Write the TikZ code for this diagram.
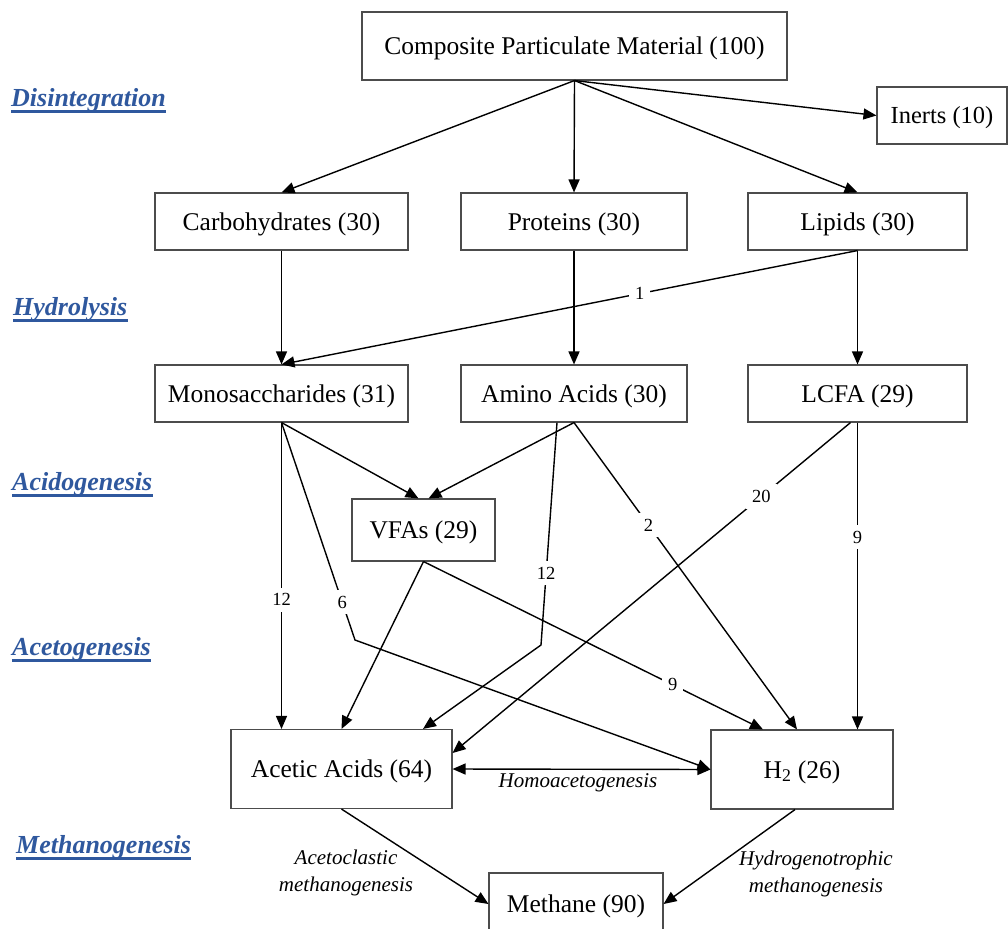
\documentclass[tikz,border=0pt]{standalone}
\usepackage{fontspec}
\setmainfont{Liberation Serif}
\usetikzlibrary{arrows.meta}
\definecolor{stageblue}{RGB}{47,88,158}
\begin{document}
\begin{tikzpicture}[x=1pt,y=-1pt,
  box/.style={draw=black!70, line width=1.1pt, inner sep=0pt, anchor=center,
    text height=17pt, text depth=0pt, font=\fontsize{25.5}{30}\selectfont},
  conn/.style={line width=1.4pt, -{Triangle[length=13pt,width=11pt]}},
  lbl/.style={fill=white, inner sep=6pt, font=\fontsize{18.5}{22}\selectfont},
  proc/.style={font=\fontsize{21}{27}\selectfont\itshape, align=center},
  stage/.style={font=\fontsize{26}{30}\selectfont\bfseries\itshape, text=stageblue,
    inner sep=0pt, anchor=base west},
  uline/.style={draw=stageblue, line width=3pt}]

\useasboundingbox (0,0) rectangle (1008,928);

% boxes
\node[box, minimum width=425pt, minimum height=68pt] (comp) at (574.5,46) {Composite Particulate Material (100)};
\node[box, minimum width=130pt, minimum height=57pt, font=\fontsize{24.5}{30}\selectfont] (inerts) at (942,115.5) {Inerts (10)};
\node[box, minimum width=253pt, minimum height=57pt] (carb) at (281.5,221.5) {Carbohydrates (30)};
\node[box, minimum width=226pt, minimum height=57pt] (prot) at (574,221.5) {Proteins (30)};
\node[box, minimum width=219pt, minimum height=57pt] (lip) at (857.5,221.5) {Lipids (30)};
\node[box, minimum width=253pt, minimum height=57pt] (mono) at (281.5,393.5) {Monosaccharides (31)};
\node[box, minimum width=226pt, minimum height=57pt] (amino) at (574,393.5) {Amino Acids (30)};
\node[box, minimum width=219pt, minimum height=57pt] (lcfa) at (857.5,393.5) {LCFA (29)};
\node[box, minimum width=143pt, minimum height=62pt] (vfa) at (423.5,530) {VFAs (29)};
\node[box, minimum width=221pt, minimum height=79pt] (acetic) at (341.5,769) {Acetic Acids (64)};
\node[box, minimum width=182pt, minimum height=79pt] (h2) at (802,769.5) {H\textsubscript{2} (26)};
\node[box, minimum width=174pt, minimum height=62pt] (meth) at (576,904) {Methane (90)};

% stage labels
\node[stage] (dis) at (11,107) {Disintegration};
\node[stage] (hyd) at (13,315) {Hydrolysis};
\node[stage] (acid) at (12,490) {Acidogenesis};
\node[stage] (acet) at (12,655) {Acetogenesis};
\node[stage] (meths) at (16,853) {Methanogenesis};
\foreach \s in {dis,hyd,acid,acet,meths}{
  \draw[uline] ([yshift=-5pt]\s.base west) -- ([yshift=-5pt]\s.base east);
}

% connectors
\draw[conn] (comp.south) -- (carb.north);
\draw[conn] (comp.south) -- (prot.north);
\draw[conn] (comp.south) -- (lip.north);
\draw[conn] (comp.south) -- (inerts.west);
\draw[conn] (carb.south) -- (mono.north);
\draw[conn] (prot.south) -- (amino.north);
\draw[conn] (lip.south) -- (lcfa.north);
\draw[conn] (lip.south) -- node[lbl,pos=0.378]{1} (mono.north);
\draw[conn] (mono.south) -- ([xshift=-5pt]vfa.north);
\draw[conn] (amino.south) -- ([xshift=5pt]vfa.north);
\draw[conn] (mono.south) -- node[lbl,pos=0.578]{12} ([xshift=-60pt]acetic.north);
\coordinate (b6) at (355,640);
\draw[conn] (mono.south) -- node[lbl,pos=0.826]{6} (b6) -- (h2.west);
\coordinate (b12) at (541,645);
\draw[conn] ([xshift=-17pt]amino.south) -- node[lbl,pos=0.677]{12} (b12) -- ([xshift=81.5pt]acetic.north);
\draw[conn] (amino.south) -- node[lbl,pos=0.334]{2} ([xshift=-5pt]h2.north);
\draw[conn] ([xshift=-7pt]lcfa.south) -- node[lbl,pos=0.224]{20} ([yshift=16pt]acetic.east);
\draw[conn] (lcfa.south) -- node[lbl,pos=0.373]{9} (lcfa.south |- h2.north);
\draw[conn] (vfa.south) -- (acetic.north);
\draw[conn] (vfa.south) -- node[lbl,pos=0.734]{9} ([xshift=-39pt]h2.north);
\draw[line width=1.4pt, {Triangle[length=13pt,width=11pt]}-{Triangle[length=13pt,width=11pt]}] (acetic.east) -- (h2.west);
\draw[conn] (acetic.south) -- (meth.west);
\draw[conn] ([xshift=-7pt]h2.south) -- (meth.east);

% process labels
\node[proc] (homo) at (578,783) {Homoacetogenesis};
\node[proc] (aceto) at (346,873) {Acetoclastic\\methanogenesis};
\node[proc] (hydro) at (816,874) {Hydrogenotrophic\\methanogenesis};
\end{tikzpicture}
\end{document}
